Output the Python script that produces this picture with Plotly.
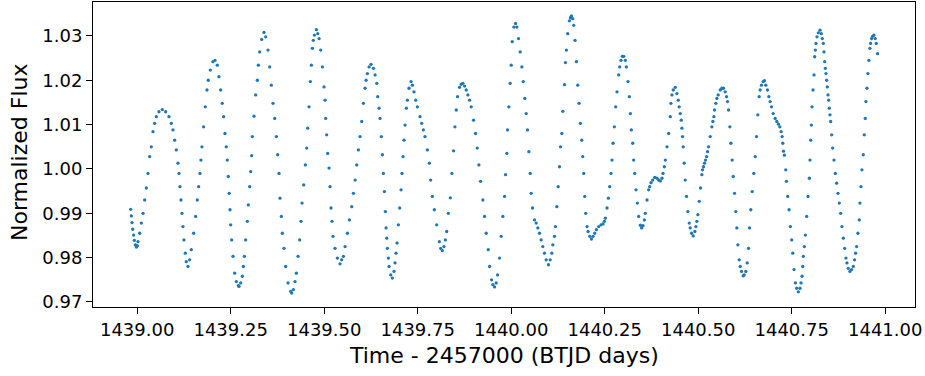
import plotly.graph_objects as go

# Light-curve samples (time in BTJD days, normalized flux)
time_btjd = [
1438.9826,1438.9844,1438.9862,1438.9880,1438.9906,1438.9924,1438.9951,1438.9978,1439.0004,1439.0022,
1439.0067,1439.0111,1439.0156,1439.0200,1439.0245,1439.0289,1439.0334,1439.0378,1439.0423,1439.0467,
1439.0512,1439.0583,1439.0672,1439.0761,1439.0850,1439.0913,1439.0957,1439.1002,1439.1046,1439.1091,
1439.1118,1439.1144,1439.1171,1439.1198,1439.1224,1439.1251,1439.1287,1439.1313,1439.1358,1439.1402,
1439.1447,1439.1509,1439.1563,1439.1607,1439.1643,1439.1679,1439.1705,1439.1732,1439.1776,1439.1821,
1439.1866,1439.1901,1439.1955,1439.2026,1439.2080,1439.2142,1439.2186,1439.2231,1439.2275,1439.2311,
1439.2347,1439.2382,1439.2409,1439.2436,1439.2462,1439.2482,1439.2500,1439.2527,1439.2562,1439.2607,
1439.2652,1439.2705,1439.2723,1439.2767,1439.2812,1439.2839,1439.2866,1439.2901,1439.2946,1439.2972,
1439.3008,1439.3035,1439.3061,1439.3079,1439.3124,1439.3168,1439.3213,1439.3240,1439.3275,1439.3329,
1439.3391,1439.3436,1439.3498,1439.3543,1439.3587,1439.3632,1439.3677,1439.3721,1439.3757,1439.3792,
1439.3819,1439.3855,1439.3881,1439.3926,1439.3971,1439.4033,1439.4104,1439.4131,1439.4176,1439.4220,
1439.4256,1439.4301,1439.4345,1439.4381,1439.4408,1439.4452,1439.4497,1439.4533,1439.4559,1439.4595,
1439.4630,1439.4657,1439.4684,1439.4710,1439.4737,1439.4791,1439.4827,1439.4863,1439.4907,1439.4952,
1439.4996,1439.5023,1439.5041,1439.5067,1439.5094,1439.5130,1439.5156,1439.5183,1439.5210,1439.5236,
1439.5290,1439.5352,1439.5423,1439.5468,1439.5514,1439.5559,1439.5621,1439.5675,1439.5737,1439.5781,
1439.5826,1439.5870,1439.5915,1439.5959,1439.6004,1439.6049,1439.6093,1439.6120,1439.6155,1439.6200,
1439.6253,1439.6316,1439.6360,1439.6405,1439.6431,1439.6467,1439.6494,1439.6529,1439.6556,1439.6583,
1439.6610,1439.6636,1439.6654,1439.6672,1439.6690,1439.6716,1439.6734,1439.6779,1439.6823,1439.6868,
1439.6894,1439.6921,1439.6948,1439.6984,1439.7019,1439.7055,1439.7081,1439.7108,1439.7135,1439.7162,
1439.7197,1439.7224,1439.7268,1439.7322,1439.7358,1439.7402,1439.7447,1439.7491,1439.7562,1439.7607,
1439.7651,1439.7696,1439.7758,1439.7812,1439.7847,1439.7892,1439.7945,1439.8008,1439.8079,1439.8114,
1439.8159,1439.8203,1439.8239,1439.8275,1439.8319,1439.8373,1439.8415,1439.8459,1439.8495,1439.8531,
1439.8566,1439.8620,1439.8664,1439.8709,1439.8753,1439.8798,1439.8842,1439.8887,1439.8931,1439.8994,
1439.9047,1439.9092,1439.9136,1439.9181,1439.9243,1439.9288,1439.9332,1439.9386,1439.9421,1439.9475,
1439.9510,1439.9555,1439.9599,1439.9635,1439.9688,1439.9733,1439.9777,1439.9822,1439.9849,1439.9884,
1439.9902,1439.9938,1439.9973,1440.0000,1440.0027,1440.0071,1440.0116,1440.0151,1440.0196,1440.0240,
1440.0285,1440.0321,1440.0365,1440.0401,1440.0436,1440.0472,1440.0508,1440.0534,1440.0570,1440.0623,
1440.0668,1440.0712,1440.0757,1440.0801,1440.0846,1440.0890,1440.0935,1440.0997,1440.1042,1440.1086,
1440.1113,1440.1158,1440.1184,1440.1220,1440.1256,1440.1291,1440.1318,1440.1354,1440.1380,1440.1425,
1440.1451,1440.1476,1440.1512,1440.1556,1440.1583,1440.1610,1440.1645,1440.1672,1440.1707,1440.1743,
1440.1779,1440.1814,1440.1850,1440.1886,1440.1912,1440.1939,1440.1966,1440.1992,1440.2028,1440.2055,
1440.2099,1440.2144,1440.2188,1440.2233,1440.2277,1440.2340,1440.2402,1440.2455,1440.2491,1440.2518,
1440.2562,1440.2598,1440.2634,1440.2669,1440.2696,1440.2723,1440.2758,1440.2794,1440.2829,1440.2874,
1440.2901,1440.2936,1440.2972,1440.3008,1440.3052,1440.3079,1440.3123,1440.3159,1440.3186,1440.3212,
1440.3248,1440.3275,1440.3301,1440.3337,1440.3373,1440.3408,1440.3453,1440.3488,1440.3524,1440.3560,
1440.3586,1440.3631,1440.3675,1440.3702,1440.3738,1440.3782,1440.3836,1440.3898,1440.3943,1440.3987,
1440.4032,1440.4058,1440.4094,1440.4121,1440.4165,1440.4210,1440.4254,1440.4270,1440.4297,1440.4332,
1440.4386,1440.4430,1440.4466,1440.4492,1440.4519,1440.4546,1440.4564,1440.4581,1440.4599,1440.4626,
1440.4653,1440.4688,1440.4724,1440.4760,1440.4786,1440.4822,1440.4866,1440.4911,1440.4938,1440.4964,
1440.4991,1440.5027,1440.5062,1440.5098,1440.5116,1440.5142,1440.5169,1440.5196,1440.5223,1440.5249,
1440.5276,1440.5321,1440.5365,1440.5392,1440.5419,1440.5436,1440.5472,1440.5499,1440.5534,1440.5588,
1440.5632,1440.5677,1440.5721,1440.5757,1440.5784,1440.5810,1440.5846,1440.5873,1440.5908,1440.5935,
1440.5971,1440.6006,1440.6033,1440.6060,1440.6095,1440.6122,1440.6158,1440.6202,1440.6229,1440.6273,
1440.6309,1440.6345,1440.6371,1440.6407,1440.6443,1440.6487,1440.6523,1440.6558,1440.6594,1440.6630,
1440.6656,1440.6692,1440.6736,1440.6772,1440.6808,1440.6852,1440.6888,1440.6923,1440.6959,1440.7004,
1440.7057,1440.7102,1440.7146,1440.7182,1440.7217,1440.7244,1440.7262,1440.7280,1440.7304,1440.7340,
1440.7358,1440.7393,1440.7429,1440.7464,1440.7500,1440.7527,1440.7562,1440.7598,1440.7633,1440.7678,
1440.7722,1440.7749,1440.7776,1440.7794,1440.7811,1440.7838,1440.7865,1440.7900,1440.7936,1440.7972,
1440.7989,1440.8007,1440.8025,1440.8043,1440.8069,1440.8096,1440.8114,1440.8132,1440.8149,1440.8176,
1440.8212,1440.8256,1440.8292,1440.8319,1440.8345,1440.8363,1440.8381,1440.8399,1440.8416,1440.8434,
1440.8452,1440.8470,1440.8488,1440.8505,1440.8523,1440.8541,1440.8568,1440.8594,1440.8630,1440.8666,
1440.8701,1440.8737,1440.8772,1440.8808,1440.8843,1440.8879,1440.8915,1440.8950,1440.8977,1440.9012,
1440.9057,1440.9101,1440.9146,1440.9181,1440.9208,1440.9235,1440.9270,1440.9306,1440.9324,1440.9351,
1440.9377,1440.9413,1440.9440,1440.9466,1440.9484,1440.9511,1440.9537,1440.9564,1440.9591,1440.9609,
1440.9635,1440.9662,1440.9698,1440.9733,1440.9760,1440.9795]

flux_norm = [
0.9909,0.9894,0.9879,0.9864,0.9851,0.9839,0.9829,0.9824,0.9827,0.9836,
0.9855,0.9878,0.9900,0.9930,0.9957,0.9990,1.0028,1.0050,1.0084,1.0103,
1.0118,1.0129,1.0134,1.0129,1.0118,1.0103,1.0088,1.0065,1.0043,1.0013,
0.9990,0.9960,0.9930,0.9900,0.9870,0.9840,0.9810,0.9791,0.9780,0.9795,
0.9818,0.9855,0.9893,0.9930,0.9960,0.9990,1.0020,1.0050,1.0095,1.0140,
1.0178,1.0200,1.0223,1.0242,1.0245,1.0234,1.0208,1.0178,1.0148,1.0118,
1.0080,1.0050,1.0020,0.9983,0.9945,0.9908,0.9874,0.9840,0.9803,0.9765,
0.9746,0.9737,0.9735,0.9743,0.9758,0.9780,0.9803,0.9840,0.9882,0.9919,
0.9960,0.9994,1.0030,1.0073,1.0119,1.0167,1.0200,1.0234,1.0264,1.0292,
1.0308,1.0298,1.0268,1.0230,1.0189,1.0148,1.0114,1.0073,1.0032,0.9990,
0.9934,0.9893,0.9855,0.9821,0.9780,0.9743,0.9724,0.9720,0.9728,0.9746,
0.9765,0.9803,0.9840,0.9882,0.9923,0.9964,1.0009,1.0047,1.0092,1.0140,
1.0197,1.0234,1.0272,1.0290,1.0302,1.0314,1.0305,1.0294,1.0268,1.0230,
1.0185,1.0155,1.0114,1.0077,1.0035,1.0002,0.9960,0.9912,0.9882,0.9848,
0.9821,0.9799,0.9786,0.9795,0.9803,0.9825,0.9855,0.9885,0.9915,0.9945,
0.9975,1.0009,1.0043,1.0073,1.0107,1.0148,1.0182,1.0200,1.0215,1.0230,
1.0236,1.0227,1.0212,1.0193,1.0163,1.0137,1.0114,1.0073,1.0032,0.9990,
0.9949,0.9904,0.9867,0.9844,0.9821,0.9799,0.9780,0.9761,0.9754,0.9769,
0.9788,0.9810,0.9833,0.9874,0.9912,0.9953,0.9990,1.0028,1.0065,1.0099,
1.0137,1.0155,1.0182,1.0197,1.0189,1.0174,1.0155,1.0140,1.0118,1.0103,
1.0088,1.0073,1.0043,1.0013,0.9975,0.9938,0.9908,0.9874,0.9836,0.9821,
0.9816,0.9825,0.9840,0.9859,0.9900,0.9935,0.9990,1.0041,1.0095,1.0133,
1.0163,1.0184,1.0191,1.0193,1.0187,1.0178,1.0167,1.0155,1.0140,1.0110,
1.0080,1.0047,1.0009,0.9972,0.9930,0.9893,0.9855,0.9818,0.9780,0.9750,
0.9739,0.9734,0.9743,0.9761,0.9799,0.9848,0.9893,0.9938,0.9987,1.0035,
1.0088,1.0140,1.0193,1.0234,1.0287,1.0320,1.0328,1.0320,1.0294,1.0264,
1.0230,1.0197,1.0159,1.0125,1.0088,1.0039,0.9990,0.9945,0.9912,0.9885,
0.9878,0.9867,0.9855,0.9840,0.9825,0.9810,0.9795,0.9784,0.9795,0.9810,
0.9829,0.9848,0.9870,0.9915,0.9960,1.0005,1.0050,1.0080,1.0130,1.0190,
1.0240,1.0268,1.0305,1.0334,1.0341,1.0345,1.0339,1.0324,1.0290,1.0242,
1.0189,1.0148,1.0103,1.0065,1.0028,0.9990,0.9938,0.9900,0.9870,0.9859,
0.9848,0.9842,0.9848,0.9855,0.9863,0.9870,0.9874,0.9876,0.9882,0.9889,
0.9912,0.9934,0.9960,0.9990,1.0020,1.0058,1.0095,1.0140,1.0174,1.0212,
1.0230,1.0245,1.0254,1.0254,1.0245,1.0230,1.0197,1.0163,1.0125,1.0088,
1.0058,1.0020,0.9990,0.9953,0.9923,0.9893,0.9873,0.9867,0.9872,0.9885,
0.9900,0.9930,0.9953,0.9960,0.9969,0.9975,0.9981,0.9979,0.9975,0.9973,
0.9979,0.9990,1.0005,1.0020,1.0050,1.0080,1.0118,1.0148,1.0167,1.0178,
1.0184,1.0170,1.0155,1.0140,1.0125,1.0110,1.0092,1.0073,1.0050,1.0013,
0.9975,0.9938,0.9904,0.9878,0.9867,0.9855,0.9849,0.9859,0.9870,0.9882,
0.9897,0.9927,0.9957,0.9987,0.9998,1.0005,1.0013,1.0020,1.0028,1.0039,
1.0050,1.0073,1.0095,1.0107,1.0118,1.0133,1.0148,1.0159,1.0167,1.0178,
1.0182,1.0182,1.0174,1.0163,1.0152,1.0133,1.0095,1.0058,1.0020,0.9983,
0.9945,0.9904,0.9867,0.9829,0.9795,0.9780,0.9769,0.9759,0.9761,0.9769,
0.9788,0.9821,0.9867,0.9908,0.9949,0.9990,1.0028,1.0073,1.0122,1.0163,
1.0178,1.0189,1.0197,1.0199,1.0189,1.0178,1.0163,1.0152,1.0140,1.0125,
1.0114,1.0107,1.0101,1.0095,1.0084,1.0073,1.0058,1.0040,1.0031,0.9998,
0.9972,0.9938,0.9908,0.9870,0.9840,0.9810,0.9773,0.9743,0.9731,0.9723,
0.9731,0.9743,0.9758,0.9780,0.9803,0.9825,0.9851,0.9893,0.9938,0.9979,
1.0020,1.0065,1.0099,1.0140,1.0178,1.0212,1.0253,1.0268,1.0283,1.0298,
1.0307,1.0313,1.0305,1.0294,1.0283,1.0264,1.0242,1.0227,1.0215,1.0200,
1.0185,1.0167,1.0155,1.0137,1.0122,1.0107,1.0077,1.0047,1.0020,0.9990,
0.9968,0.9945,0.9923,0.9900,0.9870,0.9844,0.9821,0.9799,0.9788,0.9776,
0.9769,0.9773,0.9780,0.9795,0.9810,0.9825,0.9855,0.9885,0.9923,0.9960,
0.9998,1.0032,1.0077,1.0114,1.0152,1.0182,1.0215,1.0245,1.0272,1.0283,
1.0294,1.0299,1.0302,1.0294,1.0283,1.0260]

x_ticks = [1439.00, 1439.25, 1439.50, 1439.75, 1440.00, 1440.25, 1440.50, 1440.75, 1441.00]
y_ticks = [0.97, 0.98, 0.99, 1.00, 1.01, 1.02, 1.03]

fig = go.Figure(go.Scatter(
    x=time_btjd, y=flux_norm, mode="markers",
    marker=dict(size=3.3, color="#1f77b4", line=dict(width=0)),
    hoverinfo="x+y", showlegend=False))

axis_common = dict(showline=True, linecolor="black", linewidth=1, mirror=True,
                   ticks="outside", ticklen=6, tickwidth=1, tickcolor="black",
                   showgrid=False, zeroline=False, automargin=False,
                   tickfont=dict(family="DejaVu Sans", size=18, color="black"))

fig.update_xaxes(range=[1438.8819, 1441.0796], tickvals=x_ticks,
                 ticktext=[f"{v:.2f}" for v in x_ticks], **axis_common)
fig.update_yaxes(range=[0.96887, 1.03765], tickvals=y_ticks,
                 ticktext=[f"{v:.2f}" for v in y_ticks], **axis_common)

title_font = dict(family="DejaVu Sans", size=22, color="black")
fig.update_layout(
    width=925, height=376, margin=dict(l=93, r=10, t=2, b=69),
    plot_bgcolor="white", paper_bgcolor="white",
    annotations=[
        dict(text="Time - 2457000 (BTJD days)", xref="paper", yref="paper",
             x=0.5, y=-0.159, xanchor="center", yanchor="middle",
             showarrow=False, font=title_font),
        dict(text="Normalized Flux", xref="paper", yref="paper",
             x=-0.0888, y=0.505, xanchor="center", yanchor="middle",
             textangle=-90, showarrow=False, font=title_font),
    ])

fig.write_html(
    "out.html",
    config={"displayModeBar": False},
    post_script="document.body.style.margin='0';document.body.style.padding='0';"
                "document.body.style.overflow='hidden';",
)
